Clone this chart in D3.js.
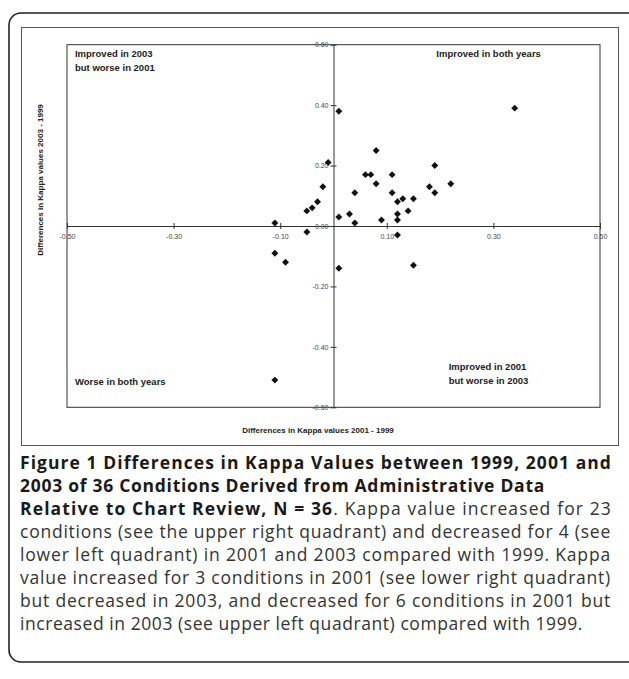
<!DOCTYPE html>
<html>
<head>
<meta charset="utf-8">
<script src="https://cdn.jsdelivr.net/npm/d3@7"></script>
<style>
  body { margin: 0; background: #fff; }
  svg { display: block; }
</style>
</head>
<body>
<div class="chart"></div>
<script>
// differences 2001 - 1999 (x) and 2003 - 1999 (y), one per condition
const diff2001 = [-0.11, -0.11, -0.09, -0.11, -0.05, -0.05, -0.04, -0.03, -0.02, -0.01,
  0.01, 0.01, 0.01, 0.03, 0.04, 0.04, 0.06, 0.07, 0.08, 0.08,
  0.09, 0.11, 0.11, 0.12, 0.12, 0.12, 0.12, 0.13, 0.14, 0.15,
  0.15, 0.18, 0.19, 0.19, 0.22, 0.34]
const diff2003 = [0.01, -0.09, -0.12, -0.51, -0.02, 0.05, 0.06, 0.08, 0.13, 0.21,
  0.38, 0.03, -0.14, 0.04, 0.01, 0.11, 0.17, 0.17, 0.25, 0.14,
  0.02, 0.17, 0.11, 0.08, 0.04, 0.02, -0.03, 0.09, 0.05, 0.09,
  -0.13, 0.13, 0.20, 0.11, 0.14, 0.39]
const xTicks = [-0.5, -0.3, -0.1, 0.1, 0.3, 0.5]
const yTicks = [-0.6, -0.4, -0.2, 0, 0.2, 0.4, 0.6]
const quadrantLabels = [
  {lines: ['Improved in 2003', 'but worse in 2001'], x: -0.485, y: 0.56},
  {lines: ['Improved in both years'], x: 0.193, y: 0.56},
  {lines: ['Worse in both years'], x: -0.485, y: -0.525},
  {lines: ['Improved in 2001', 'but worse in 2003'], x: 0.216, y: -0.475}
]
const captionBold = ['Figure 1 Differences in Kappa Values between 1999, 2001 and',
  '2003 of 36 Conditions Derived from Administrative Data',
  'Relative to Chart Review, N = 36']
const captionText = ['. Kappa value increased for 23',
  'conditions (see the upper right quadrant) and decreased for 4 (see',
  'lower left quadrant) in 2001 and 2003 compared with 1999. Kappa',
  'value increased for 3 conditions in 2001 (see lower right quadrant)',
  'but decreased in 2003, and decreased for 6 conditions in 2001 but',
  'increased in 2003 (see upper left quadrant) compared with 1999.']
// right end of each caption line in the figure
const captionEnds = [612, 545, 612, 611, 611, 611, 611, 583]

const points = diff2001.map((d, i) => ({x: d, y: diff2003[i]}))

let svg = d3.select('.chart')
  .append('svg')
  .attr('width', 629)
  .attr('height', 679)

// outer rounded box of the figure
svg.append('rect')
  .attr('x', 9).attr('y', 13)
  .attr('width', 632).attr('height', 649)
  .attr('rx', 12)
  .style('fill', 'none')
  .style('stroke', '#222')
  .style('stroke-width', 1.6)

// chart frame
svg.append('rect')
  .attr('x', 21.5).attr('y', 27.5)
  .attr('width', 597).attr('height', 418)
  .style('fill', '#fff')
  .style('stroke', '#555')

let x = d3.scaleLinear().domain([-0.5, 0.5]).range([67, 600])
let y = d3.scaleLinear().domain([-0.6, 0.6]).range([407.3, 44.7])

// plot box
svg.append('rect')
  .attr('x', x(-0.5)).attr('y', y(0.6))
  .attr('width', x(0.5) - x(-0.5)).attr('height', y(-0.6) - y(0.6))
  .style('fill', 'none')
  .style('stroke', '#333')

let xAxis = svg.append('g')
  .attr('transform', `translate(0,${y(0)})`)
  .call(d3.axisBottom(x).tickValues(xTicks).tickSize(3).tickSizeOuter(0).tickPadding(5)
    .tickFormat(d => d.toFixed(2)))

let yAxis = svg.append('g')
  .attr('transform', `translate(${x(0)},0)`)
  .call(d3.axisLeft(y).tickValues(yTicks).tickSize(3).tickSizeOuter(0).tickPadding(2)
    .tickFormat(d => d.toFixed(2)))

xAxis.selectAll('.tick line').attr('y1', -3).attr('y2', 3)
yAxis.selectAll('.tick line').attr('x1', -3).attr('x2', 3)
svg.selectAll('.domain, .tick line').style('stroke', '#333')
svg.selectAll('.tick text')
  .style('font-family', 'Arial, "Liberation Sans", sans-serif')
  .style('font-size', '7px')
  .style('fill', '#444')

svg.append('g').selectAll('path')
  .data(points)
  .enter()
  .append('path')
  .attr('d', d3.symbol().type(d3.symbolSquare).size(24))
  .attr('transform', d => `translate(${x(d.x)},${y(d.y)}) rotate(45)`)
  .style('fill', '#111')

let quads = svg.append('g').selectAll('text')
  .data(quadrantLabels)
  .enter()
  .append('text')
  .attr('x', d => x(d.x))
  .attr('y', d => y(d.y))
  .style('font-family', 'Arial, "Liberation Sans", sans-serif')
  .style('font-size', '9.5px')
  .style('font-weight', 'bold')
  .style('fill', '#222')

quads.selectAll('tspan')
  .data(d => d.lines.map((l, i) => ({l, i, x: d.x})))
  .enter()
  .append('tspan')
  .attr('x', d => x(d.x))
  .attr('dy', d => d.i ? 14 : 0)
  .text(d => d.l)

// axis titles
svg.append('text')
  .attr('x', 318).attr('y', 433)
  .attr('text-anchor', 'middle')
  .style('font-family', 'Arial, "Liberation Sans", sans-serif')
  .style('font-size', '8px')
  .style('font-weight', 'bold')
  .style('fill', '#222')
  .text('Differences in Kappa values 2001 - 1999')

svg.append('text')
  .attr('transform', 'translate(43,180) rotate(-90)')
  .attr('text-anchor', 'middle')
  .style('font-family', 'Arial, "Liberation Sans", sans-serif')
  .style('font-size', '8px')
  .style('font-weight', 'bold')
  .style('fill', '#222')
  .text('Differences in Kappa values 2003 - 1999')

// caption, one text per line, spaced out to the figure's line widths
let lines = captionBold.map(t => [{t, bold: true}])
lines[2].push({t: captionText[0], bold: false})
captionText.slice(1).forEach(t => lines.push([{t, bold: false}]))

lines.forEach((parts, i) => {
  let line = svg.append('text')
    .attr('x', 20).attr('y', 469 + i * 23)
    .style('font-family', '"Open Sans", sans-serif')
    .style('font-size', '17.5px')
  parts.forEach(p => {
    line.append('tspan')
      .style('font-weight', p.bold ? 'bold' : 'normal')
      .style('fill', p.bold ? '#1a1a1a' : '#333')
      .text(p.t)
  })
  let w = line.node().getComputedTextLength()
  let n = parts.reduce((s, p) => s + p.t.length, 0)
  let extra = (captionEnds[i] - 20 - w) / n
  line.style('letter-spacing', Math.max(0, extra) + 'px')
})
</script>
</body>
</html>
